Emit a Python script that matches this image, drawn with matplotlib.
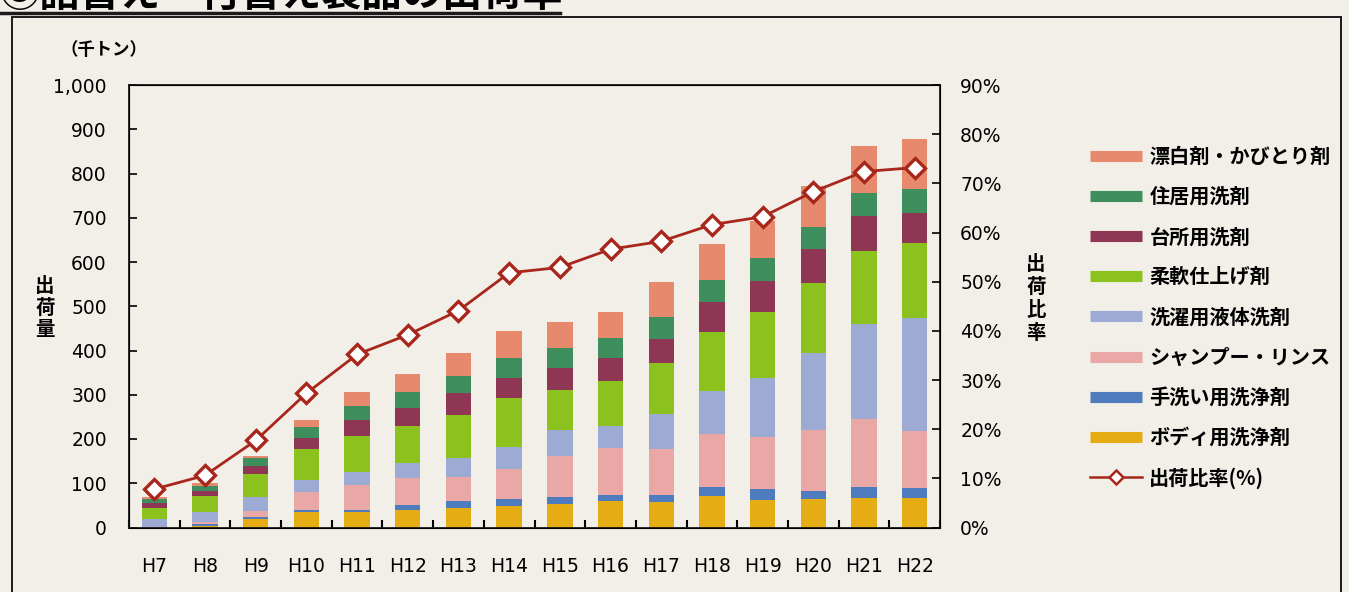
import matplotlib
matplotlib.use("Agg")
import matplotlib.pyplot as plt
from matplotlib.lines import Line2D
from matplotlib.patches import Rectangle
from matplotlib.ticker import FuncFormatter, MultipleLocator
import numpy as np

# ---- data (thousand tonnes, stacked bottom -> top) ----
years = ["H7", "H8", "H9", "H10", "H11", "H12", "H13", "H14",
         "H15", "H16", "H17", "H18", "H19", "H20", "H21", "H22"]

body_wash   = [0, 4, 19, 34, 35, 40, 44, 48, 54, 60, 58, 71, 62, 64, 66, 66]
hand_wash   = [0, 4, 4, 5, 5, 10, 15, 17, 14, 14, 15, 20, 24, 19, 26, 23]
shampoo     = [2, 4, 15, 42, 57, 62, 56, 68, 94, 105, 104, 120, 119, 137, 154, 128]
liquid_det  = [17, 22, 32, 26, 29, 34, 41, 49, 58, 50, 79, 97, 132, 175, 214, 257]
softener    = [24, 38, 50, 70, 81, 83, 99, 111, 91, 101, 116, 133, 150, 157, 164, 168]
kitchen_det = [13, 11, 19, 26, 36, 41, 49, 45, 49, 53, 55, 69, 71, 77, 81, 69]
house_det   = [9, 10, 17, 23, 32, 36, 38, 45, 45, 46, 49, 49, 51, 50, 50, 55]
bleach      = [5, 7, 5, 16, 32, 41, 53, 62, 60, 59, 78, 81, 84, 92, 108, 113]

# share of refill products (%)
ratio = [7.8, 10.6, 17.7, 27.3, 35.2, 39.2, 44.1, 51.8,
         52.9, 56.6, 58.2, 61.6, 63.2, 68.3, 72.4, 73.2]

series_names = ["ボディ用洗浄剤", "手洗い用洗浄剤", "シャンプー・リンス", "洗濯用液体洗剤",
                "柔軟仕上げ剤", "台所用洗剤", "住居用洗剤", "漂白剤・かびとり剤"]
series_vals = [body_wash, hand_wash, shampoo, liquid_det,
               softener, kitchen_det, house_det, bleach]
series_colors = ["#E6AC14", "#4E7CBF", "#E9A7A6", "#9DAAD4",
                 "#8CC21E", "#8E3653", "#3F8E5D", "#E6896C"]
line_name = "出荷比率(%)"
line_color = "#A8261B"

PAPER = "#F2EFE9"
JP = ["Noto Sans CJK JP", "DejaVu Sans"]
NUM = ["DejaVu Sans"]

W, H = 1349, 592
fig = plt.figure(figsize=(W / 100, H / 100), dpi=100, facecolor=PAPER)


def fx(px):
    return px / W


def fy(py):
    return 1 - py / H


ax = fig.add_axes([fx(129), fy(527.5), fx(940) - fx(129), fy(85) - fy(527.5)])
ax.set_facecolor(PAPER)

x = np.arange(len(years))
bottom = np.zeros(len(years))
for vals, col in zip(series_vals, series_colors):
    ax.bar(x, vals, width=0.5, bottom=bottom, color=col, edgecolor="none", zorder=2)
    bottom += np.array(vals)

ax.set_xlim(-0.5, len(years) - 0.5)
ax.set_ylim(0, 1000)
ax.yaxis.set_major_locator(MultipleLocator(100))
ax.yaxis.set_major_formatter(FuncFormatter(lambda v, p: f"{int(v):,}"))

# category labels at centres, tick marks at boundaries
ax.set_xticks(x)
ax.set_xticklabels(years, fontsize=13.5, family=NUM)
ax.set_xticks(np.arange(len(years) + 1) - 0.5, minor=True)
ax.tick_params(axis="x", which="major", length=0, pad=21)
ax.tick_params(axis="x", which="minor", direction="in", length=6, width=1.5)
ax.tick_params(axis="y", direction="in", length=6, width=1.2, pad=16, labelsize=13.5)
for lab in ax.get_yticklabels():
    lab.set_family(NUM)
for sp in ax.spines.values():
    sp.set_linewidth(1.3)
    sp.set_color("#1a1a1a")

ax2 = ax.twinx()
ax2.set_ylim(0, 90)
ax2.yaxis.set_major_locator(MultipleLocator(10))
ax2.yaxis.set_major_formatter(FuncFormatter(lambda v, p: f"{int(v)}%"))
ax2.tick_params(axis="y", direction="in", length=6, width=1.2, pad=14.5, labelsize=13.5)
for lab in ax2.get_yticklabels():
    lab.set_family(NUM)
ax2.plot(x, ratio, color=line_color, lw=2, marker="D", markersize=10.5,
         markerfacecolor="white", markeredgecolor=line_color, markeredgewidth=2.4,
         zorder=5)

# axis captions
fig.text(fx(104), fy(50), "（千トン）", family=JP, fontsize=12.5, weight="bold",
         ha="center", va="center")
fig.text(fx(45), fy(308), "出\n荷\n量", family=JP, fontsize=14, weight="bold",
         ha="center", va="center", linespacing=1.15)
fig.text(fx(1036), fy(299), "出\n荷\n比\n率", family=JP, fontsize=14, weight="bold",
         ha="center", va="center", linespacing=1.25)

# legend
handles = [Line2D([], [], color=c, lw=8, solid_capstyle="butt")
           for c in series_colors[::-1]]
handles.append(Line2D([], [], color=line_color, lw=1.8, marker="D", markersize=7.5,
                      markerfacecolor="white", markeredgecolor=line_color,
                      markeredgewidth=1.8))
labels = series_names[::-1] + [line_name]
fig.legend(handles, labels, loc="upper left",
           bbox_to_anchor=(fx(1090), fy(146)), frameon=False,
           prop={"family": JP, "size": 14.5, "weight": "bold"},
           handlelength=2.6, handletextpad=0.35, labelspacing=0.95,
           borderpad=0, borderaxespad=0)

# page frame and heading
fig.add_artist(Rectangle((fx(12), fy(640)), fx(1341) - fx(12), fy(17) - fy(640),
                         transform=fig.transFigure, fill=False,
                         edgecolor="#1a1a1a", lw=1.4))
fig.add_artist(Line2D([0, fx(560)], [fy(12.5), fy(12.5)], transform=fig.transFigure,
                      color="#1a1a1a", lw=2.5))
fig.text(fx(0), fy(6), "③詰替え・付替え製品の出荷率", family=JP, fontsize=29,
         weight="bold", ha="left", va="baseline")

fig.savefig("out.png", dpi=100, facecolor=PAPER)
